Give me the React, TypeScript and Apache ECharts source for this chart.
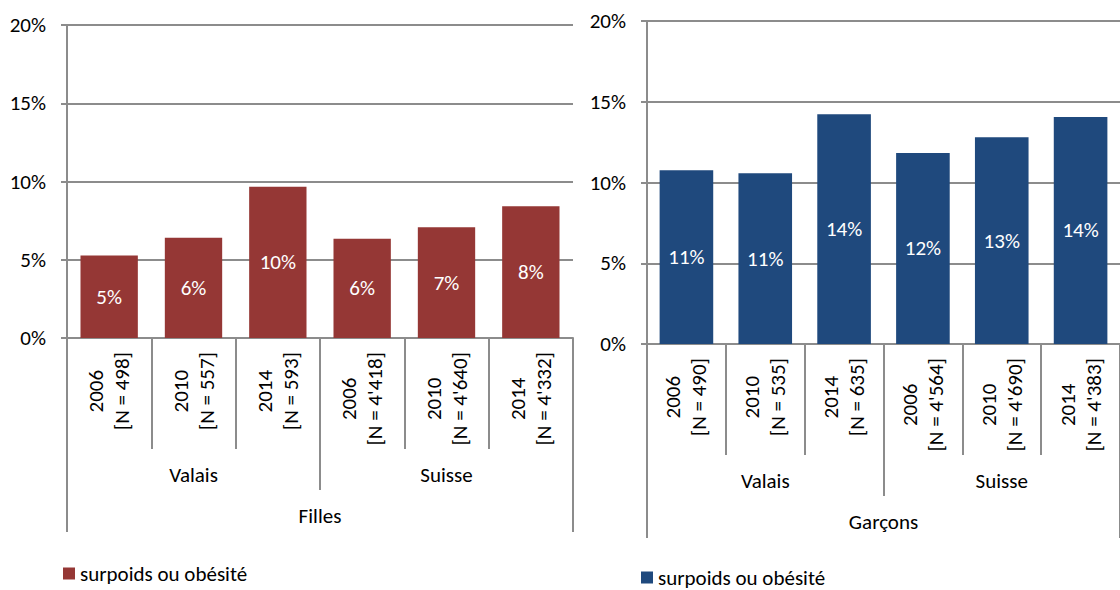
import React, { useEffect, useRef } from "react";
import * as echarts from "echarts";

const years = ["2006", "2010", "2014", "2006", "2010", "2014"];
const nFilles = ["498", "557", "593", "4'418", "4'640", "4'332"];
const nGarcons = ["490", "535", "635", "4'564", "4'690", "4'383"];
const regions = ["Valais", "Suisse"];
const filles = [0.0527, 0.064, 0.0967, 0.0634, 0.0708, 0.0842];
const garcons = [0.1076, 0.1057, 0.1422, 0.1183, 0.128, 0.1406];
const legendLabel = "surpoids ou obésité";
const yMin = 0;
const yMax = 0.2;
const yStep = 0.05;

const FONT = "Carlito, Lato, sans-serif";
const FS = 21;
const GRAY = "#8c8c8c";
const RED = "#953735";
const BLUE = "#1f497d";

const catsFilles = years.map((y, i) => `${y}\n[N = ${nFilles[i]}]`);
const catsGarcons = years.map((y, i) => `${y}\n[N = ${nGarcons[i]}]`);

const pct = (v: number) => Math.round(v * 100) + "%";

function makeXAxes(gridIndex: number, cats: string[], group: string) {
  const line = { color: GRAY, width: 2 };
  return [
    {
      type: "category",
      gridIndex,
      data: cats,
      position: "bottom",
      axisLine: { show: true, lineStyle: line },
      axisTick: { show: true, length: 111, interval: 0, lineStyle: line },
      axisLabel: {
        rotate: 90,
        interval: 0,
        margin: 14,
        fontSize: FS,
        fontFamily: FONT,
        color: "#000",
        lineHeight: 26,
        formatter: (v: string) =>
          v
            .split("\n")
            .map((s) => `{c|${s}}`)
            .join("\n"),
        rich: {
          c: { align: "center", fontSize: FS, fontFamily: FONT, color: "#000", lineHeight: 26 },
        },
      },
      splitLine: { show: false },
    },
    {
      type: "category",
      gridIndex,
      data: regions,
      position: "bottom",
      axisLine: { show: false },
      axisTick: { show: true, length: 152, interval: 0, lineStyle: line },
      axisLabel: { margin: 126, fontSize: FS, fontFamily: FONT, color: "#000", interval: 0 },
      splitLine: { show: false },
    },
    {
      type: "category",
      gridIndex,
      data: [group],
      position: "bottom",
      axisLine: { show: false },
      axisTick: { show: true, length: 194, interval: 0, lineStyle: line },
      axisLabel: { margin: 167, fontSize: FS, fontFamily: FONT, color: "#000" },
      splitLine: { show: false },
    },
  ];
}

function makeYAxis(gridIndex: number) {
  const line = { color: GRAY, width: 2 };
  return {
    type: "value",
    gridIndex,
    min: yMin,
    max: yMax,
    interval: yStep,
    axisLine: { show: true, lineStyle: line },
    axisTick: { show: true, length: 6, lineStyle: line },
    splitLine: { show: true, lineStyle: line },
    axisLabel: { formatter: pct, margin: 21, fontSize: FS, fontFamily: FONT, color: "#000" },
  };
}

function barSeries(name: string, data: number[], color: string, xAxisIndex: number, yAxisIndex: number) {
  return {
    type: "bar",
    name,
    data,
    xAxisIndex,
    yAxisIndex,
    barWidth: "68%",
    itemStyle: { color },
    label: {
      show: true,
      position: "inside",
      color: "#fff",
      fontSize: FS,
      fontFamily: FONT,
      formatter: (p: any) => pct(p.value),
    },
  };
}

export default function App() {
  const ref = useRef<HTMLDivElement>(null);
  useEffect(() => {
    if (!ref.current) return;
    const chart = echarts.init(ref.current, undefined, { renderer: "svg" });
    const legendCommon = {
      orient: "horizontal",
      padding: 0,
      itemWidth: 12,
      itemHeight: 12,
      icon: "rect",
      selectedMode: false,
      formatter: () => legendLabel,
      textStyle: { fontSize: FS, fontFamily: FONT, color: "#000" },
    };
    chart.setOption({
      animation: false,
      backgroundColor: "#fff",
      textStyle: { fontFamily: FONT },
      grid: [
        { left: 67, top: 25, width: 506, height: 313, containLabel: false },
        { left: 647, top: 21, width: 486, height: 323, containLabel: false },
      ],
      xAxis: [...makeXAxes(0, catsFilles, "Filles"), ...makeXAxes(1, catsGarcons, "Garçons")],
      yAxis: [makeYAxis(0), makeYAxis(1)],
      legend: [
        { ...legendCommon, data: ["Filles"], left: 63, top: 563 },
        { ...legendCommon, data: ["Garçons"], left: 641, top: 567 },
      ],
      series: [
        barSeries("Filles", filles, RED, 0, 0),
        barSeries("Garçons", garcons, BLUE, 3, 1),
      ],
    });
    return () => chart.dispose();
  }, []);
  return (
    <div
      ref={ref}
      style={{ position: "absolute", left: 0, top: 0, width: 1120, height: 590 }}
    />
  );
}
